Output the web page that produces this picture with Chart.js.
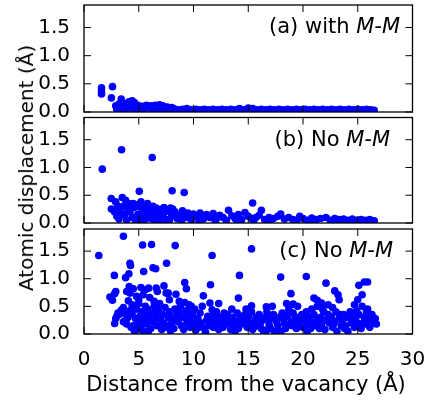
<!DOCTYPE html>
<html>
<head>
<meta charset="utf-8">
<title>Atomic displacement vs distance from the vacancy</title>
<script src="https://cdn.jsdelivr.net/npm/chart.js@4.4.0/dist/chart.umd.min.js"></script>
<style>
  html, body { margin: 0; padding: 0; background: #fff; }
  #fig { position: relative; width: 425px; height: 402px; overflow: hidden;
         font-family: 'DejaVu Sans', sans-serif; color: #000; }
  #fig canvas { position: absolute; left: 0; top: 0; }
  .ylabel { position: absolute; left: 26px; top: 168px; font-size: 20px; white-space: nowrap;
            transform: translate(-50%, -50%) rotate(-90deg); }
  .xlabel { position: absolute; left: 246px; top: 384px; font-size: 21px; white-space: nowrap;
            transform: translate(-50%, -50%); }
</style>
</head>
<body>
<div id="fig">
  <canvas id="panel-a" width="425" height="402"></canvas>
  <canvas id="panel-b" width="425" height="402"></canvas>
  <canvas id="panel-c" width="425" height="402"></canvas>
  <div class="ylabel">Atomic displacement (Å)</div>
  <div class="xlabel">Distance from the vacancy (Å)</div>
</div>
<script>
/* ── Data: [distance Å, displacement Å] ─────────────────────── */

const WITH_MM = [
  [1.6,0.43],[1.6,0.37],[1.6,0.32],[2.6,0.45],[2.5,0.25],[3.4,0.23],[2.9,0.11],[3.2,0.14],
  [3.6,0.10],[3.9,0.15],[4.1,0.18],[4.4,0.20],[4.6,0.17],[4.9,0.12],[5.3,0.10],[5.7,0.12],
  [6.1,0.11],[6.5,0.12],[6.9,0.13],[7.2,0.11],[7.6,0.09],[8.0,0.08],[15.0,0.07],
  [3.0,0.05],[3.4,0.06],[3.8,0.04],[4.2,0.07],[4.6,0.05],[5.0,0.06],[5.4,0.04],[5.8,0.07],
  [6.2,0.05],[6.6,0.06],[7.0,0.04],[7.4,0.06],[7.8,0.05],[8.2,0.06],[8.6,0.04],[9.0,0.05],
  [9.4,0.06],[9.8,0.04],[10.2,0.05],[10.6,0.04],[11.0,0.05],[11.4,0.04],[11.8,0.05],[12.2,0.04],
  [12.6,0.05],[13.0,0.04],[13.4,0.05],[13.8,0.04],[14.2,0.06],[14.6,0.04],[15.4,0.06],[15.8,0.04],
  [16.2,0.05],[16.6,0.04],[17.0,0.05],[17.4,0.04],[17.8,0.05],[18.2,0.04],[18.6,0.05],[19.0,0.04],
  [19.4,0.05],[19.8,0.04],[20.2,0.05],[20.6,0.04],[21.0,0.05],[21.4,0.04],[21.8,0.05],[22.2,0.04],
  [22.6,0.05],[23.0,0.04],[23.4,0.05],[23.8,0.04],[24.2,0.05],[24.6,0.04],[25.0,0.05],[25.4,0.04],
  [25.8,0.05],[26.2,0.04],[26.5,0.03],
];

const NO_MM_B = [
  [1.67,0.97],[3.43,1.32],[6.23,1.18],[5.05,0.57],[8.05,0.58],[9.15,0.55],[2.49,0.44],[3.5,0.46],
  [2.9,0.38],[3.8,0.41],[15.4,0.36],[16.2,0.23],[13.2,0.23],[14.7,0.19],[2.5,0.25],[2.8,0.20],
  [3.0,0.12],[3.2,0.07],[3.3,0.25],[3.6,0.30],[3.7,0.15],[3.9,0.05],[4.1,0.35],[4.2,0.20],
  [4.4,0.10],[4.6,0.28],[4.8,0.33],[4.9,0.15],[5.0,0.06],[5.2,0.38],[5.3,0.22],[5.5,0.30],
  [5.6,0.12],[5.8,0.35],[6.0,0.25],[6.1,0.08],[6.3,0.30],[6.5,0.18],[6.6,0.27],[6.8,0.10],
  [7.0,0.24],[7.2,0.15],[7.3,0.28],[7.5,0.06],[7.7,0.22],[7.9,0.27],[8.0,0.12],[8.3,0.20],
  [8.5,0.08],[8.7,0.15],[9.0,0.22],[9.2,0.10],[9.5,0.18],[9.8,0.06],[10.0,0.16],[10.3,0.12],
  [10.6,0.18],[10.9,0.07],[11.2,0.15],[11.5,0.10],[11.8,0.17],[12.1,0.08],[12.4,0.14],[12.7,0.10],
  [13.0,0.05],[13.5,0.13],[13.8,0.08],[14.1,0.15],[14.4,0.06],[15.0,0.12],[15.3,0.08],[15.7,0.10],
  [16.0,0.14],[16.5,0.06],[16.9,0.10],[17.3,0.08],[17.7,0.12],[17.96,0.16],[18.3,0.07],[18.7,0.10],
  [19.1,0.06],[19.7,0.12],[20.0,0.08],[20.4,0.05],[20.8,0.09],[21.2,0.06],[21.6,0.08],[22.1,0.10],
  [22.5,0.05],[22.9,0.08],[23.3,0.06],[23.7,0.07],[24.1,0.05],[24.5,0.07],[24.9,0.05],[25.3,0.06],
  [25.7,0.05],[26.1,0.06],[26.5,0.04],[5.5,0.04],[6.9,0.03],[8.9,0.03],[10.5,0.03],[12.0,0.03],
  [14.0,0.03],[15.5,0.04],[17.0,0.03],[19.4,0.03],[21.0,0.03],[23.0,0.03],
  [3.4,0.15],[4.0,0.25],[4.5,0.35],[5.0,0.30],[5.4,0.15],[5.9,0.20],[6.3,0.15],[6.9,0.20],
  [7.4,0.20],[8.1,0.25],[3.1,0.30],[4.7,0.05],[6.4,0.05],[7.8,0.05],[9.4,0.10],[10.8,0.14],
  [11.9,0.10],
];

const NO_MM_C = [
  [1.35,1.42],[3.6,1.77],[5.35,1.61],[6.17,1.62],[8.33,1.60],[15.3,1.54],[11.7,1.42],[4.2,1.28],
  [4.25,1.24],[7.54,1.28],[6.3,1.20],[6.55,1.18],[5.45,1.13],[2.77,1.06],[3.8,1.02],[4.1,1.09],
  [14.2,1.06],[17.96,1.03],[20.3,1.04],[11.55,0.89],[9.2,0.93],[9.35,0.82],[22.1,0.92],[25.6,0.94],
  [25.9,0.94],[25.1,0.88],[18.9,0.73],[10.9,0.69],[14.1,0.65],[8.4,0.72],[7.3,0.87],[7.7,0.74],
  [22.9,0.78],[23.2,0.71],[23.3,0.62],[21.0,0.65],[21.3,0.61],[25.4,0.71],[25.0,0.62],[24.7,0.53],
  [2.37,0.67],[2.6,0.61],[2.8,0.73],[2.9,0.77],[3.9,0.77],[4.5,0.82],[5.2,0.84],[5.6,0.80],
  [2.8,0.19],[2.9,0.28],[11.5,0.56],[11.7,0.44],[9.2,0.57],[9.8,0.50],[16.65,0.49],[15.3,0.51],
  [19.1,0.54],[19.5,0.50],[21.7,0.56],[22.3,0.53],[22.7,0.48],
  [4.13,0.86],[5.9,0.83],[6.6,0.83],[6.7,0.77],[7.5,0.74],[4.2,0.74],[4.8,0.68],[5.4,0.71],
  [4.05,0.60],[5.0,0.62],[4.4,0.53],[6.0,0.66],[6.4,0.59],[7.8,0.62],[6.9,0.53],[8.7,0.59],
  [9.6,0.53],[4.4,0.47],[3.4,0.43],[3.1,0.38],[3.0,0.32],[3.3,0.36],[3.6,0.48],
  [12.3,0.55],[13.5,0.45],[17.2,0.50],[18.5,0.55],
  [3.6,0.22],[3.8,0.25],[4.0,0.30],[3.9,0.18],[4.3,0.12],[4.4,0.35],[4.6,0.05],[4.2,0.42],[4.7,0.28],
  [4.8,0.45],[5.0,0.20],[5.1,0.32],[5.2,0.12],[5.3,0.40],[5.4,0.05],[4.9,0.10],[5.5,0.25],[5.0,0.55],
  [5.6,0.35],[5.7,0.18],[5.8,0.45],[6.0,0.28],[6.1,0.10],[6.2,0.38],[6.3,0.22],[6.4,0.50],[5.9,0.06],
  [6.6,0.30],[6.7,0.15],[6.8,0.42],[7.0,0.25],[7.1,0.08],[7.2,0.35],[7.3,0.20],[7.4,0.48],[6.9,0.55],
  [7.6,0.12],[7.7,0.30],[7.8,0.40],[8.0,0.20],[8.1,0.28],[8.2,0.10],[8.3,0.45],[8.4,0.33],[7.9,0.06],
  [8.6,0.22],[8.7,0.38],[8.9,0.15],[9.0,0.30],[9.1,0.08],[9.3,0.42],[9.4,0.20],[8.8,0.50],
  [9.6,0.30],[9.7,0.12],[9.9,0.35],[10.0,0.22],[10.1,0.45],[10.3,0.18],[10.4,0.28],[10.2,0.07],
  [10.6,0.38],[10.7,0.20],[10.8,0.50],[11.0,0.10],[11.1,0.03],[11.2,0.25],[11.3,0.32],[11.4,0.15],
  [11.6,0.22],[11.8,0.12],[11.9,0.35],[12.0,0.28],[12.2,0.18],[12.3,0.08],[12.4,0.30],[12.1,0.40],
  [12.6,0.22],[12.7,0.12],[12.9,0.30],[13.0,0.18],[13.1,0.35],[13.3,0.25],[13.4,0.08],[12.8,0.38],
  [13.6,0.30],[13.7,0.15],[13.9,0.22],[14.0,0.38],[14.1,0.10],[14.3,0.28],[14.4,0.18],[13.8,0.05],
  [14.6,0.25],[14.7,0.35],[14.9,0.12],[15.0,0.30],[15.1,0.20],[15.3,0.40],[15.4,0.08],[14.8,0.45],
  [15.6,0.22],[15.7,0.30],[15.9,0.15],[16.0,0.35],[16.2,0.10],[16.3,0.25],[16.4,0.05],[16.5,0.03],
  [16.6,0.30],[16.7,0.40],[16.9,0.18],[17.0,0.12],[17.1,0.28],[17.3,0.35],[17.4,0.05],[16.8,0.08],
  [17.6,0.22],[17.7,0.15],[17.9,0.30],[18.0,0.05],[18.1,0.38],[18.3,0.20],[18.4,0.10],[18.2,0.28],
  [18.6,0.32],[18.7,0.45],[18.9,0.22],[19.0,0.15],[19.1,0.38],[19.3,0.28],[19.4,0.10],[18.8,0.40],
  [19.6,0.30],[19.7,0.20],[19.9,0.35],[20.0,0.12],[20.2,0.25],[20.3,0.40],[20.4,0.05],[20.5,0.18],
  [20.6,0.30],[20.8,0.45],[20.9,0.22],[21.0,0.35],[21.2,0.15],[21.3,0.50],[21.4,0.25],[20.7,0.10],
  [21.6,0.30],[21.7,0.18],[21.9,0.40],[22.0,0.08],[22.1,0.25],[22.3,0.35],[22.4,0.20],[21.8,0.45],
  [22.6,0.30],[22.7,0.12],[22.9,0.22],[23.0,0.40],[23.1,0.05],[23.3,0.28],[23.4,0.35],[22.8,0.18],
  [23.6,0.22],[23.7,0.35],[23.9,0.15],[24.0,0.30],[24.1,0.05],[24.3,0.40],[24.4,0.20],[23.8,0.10],
  [24.6,0.28],[24.7,0.12],[24.9,0.42],[25.0,0.20],[25.1,0.35],[25.3,0.10],[25.4,0.50],[24.8,0.30],
  [25.6,0.30],[25.7,0.18],[25.8,0.40],[26.0,0.25],[26.1,0.12],[26.3,0.35],[26.5,0.20],[26.6,0.28],[25.9,0.45],
  [3.7,0.38],[4.5,0.15],[5.6,0.50],[6.5,0.40],[7.5,0.15],[8.5,0.30],[9.5,0.38],[10.5,0.12],
  [11.5,0.30],[12.5,0.15],[13.5,0.20],[14.5,0.32],[15.5,0.12],[16.1,0.20],[17.5,0.30],[18.5,0.15],
  [19.5,0.22],[20.1,0.30],[21.5,0.10],[22.5,0.25],[23.5,0.15],[24.5,0.35],[25.5,0.20],[26.2,0.30],
  [26.7,0.18],
];

const X_TICKS = [0, 5, 10, 15, 20, 25, 30];
const Y_TICKS = [0.0, 0.5, 1.0, 1.5];
const PANEL_TAGS = ['(a) with ', '(b) No ', '(c) No '];
const PANEL_ITALIC = 'M-M';

/* ── Layout (px) ─────────────────────────────────────────────── */
const W = 425, H = 402;
const PLOT_LEFT = 84, PLOT_RIGHT = 412.5;
const TICK_LEN = 7;
const FONT = "'DejaVu Sans', sans-serif";
const TICK_FONT = 20, TAG_FONT = 21;
const BOXES = [
  { top: 5,     bottom: 112, tagRight: 400 },
  { top: 117.5, bottom: 223, tagRight: 390 },
  { top: 229,   bottom: 334, tagRight: 393 },
];

/* ── Frame, inward ticks and panel tag ───────────────────────── */
const panelFrame = {
  id: 'panelFrame',
  afterDatasetsDraw(chart, args, opts) {
    const { ctx, chartArea: a, scales: { x, y } } = chart;
    ctx.save();
    ctx.strokeStyle = '#000';
    ctx.lineWidth = 1;
    ctx.beginPath();
    X_TICKS.forEach(v => {
      const px = x.getPixelForValue(v);
      ctx.moveTo(px, a.bottom); ctx.lineTo(px, a.bottom - TICK_LEN);
      ctx.moveTo(px, a.top);    ctx.lineTo(px, a.top + TICK_LEN);
    });
    Y_TICKS.forEach(v => {
      const py = y.getPixelForValue(v);
      ctx.moveTo(a.left, py);  ctx.lineTo(a.left + TICK_LEN, py);
      ctx.moveTo(a.right, py); ctx.lineTo(a.right - TICK_LEN, py);
    });
    ctx.stroke();
    ctx.lineWidth = 1.3;
    ctx.strokeRect(a.left, a.top, a.right - a.left, a.bottom - a.top);

    // "(a) with M-M" — M-M in italics, right aligned
    ctx.fillStyle = '#000';
    ctx.textBaseline = 'alphabetic';
    ctx.textAlign = 'left';
    ctx.font = `italic ${TAG_FONT}px ${FONT}`;
    const wItal = ctx.measureText(PANEL_ITALIC).width;
    ctx.font = `${TAG_FONT}px ${FONT}`;
    const wTag = ctx.measureText(opts.tag).width;
    const base = a.top + 28;
    const x0 = opts.right - wItal - wTag;
    ctx.fillText(opts.tag, x0, base);
    ctx.font = `italic ${TAG_FONT}px ${FONT}`;
    ctx.fillText(PANEL_ITALIC, x0 + wTag, base);
    ctx.restore();
  },
};

/* ── One scatter panel ───────────────────────────────────────── */
function makePanel(id, points, i) {
  const box = BOXES[i];
  const showX = i === BOXES.length - 1;
  return new Chart(document.getElementById(id), {
    type: 'scatter',
    data: {
      datasets: [{
        data: points.map(([x, y]) => ({ x, y })),
        backgroundColor: '#0000ff',
        borderWidth: 0,
        pointRadius: 3.8,
        pointHoverRadius: 3.8,
        clip: 0,
      }],
    },
    options: {
      responsive: false,
      animation: false,
      events: [],
      layout: {
        padding: { left: 0, right: W - PLOT_RIGHT, top: box.top, bottom: showX ? 0 : H - box.bottom },
      },
      plugins: {
        legend: { display: false },
        tooltip: { enabled: false },
        panelFrame: { tag: PANEL_TAGS[i], right: box.tagRight },
      },
      scales: {
        x: {
          type: 'linear', min: 0, max: 30, display: showX,
          afterBuildTicks: s => { s.ticks = X_TICKS.map(v => ({ value: v })); },
          afterFit: s => {
            if (showX) s.height = H - box.bottom;
            s.paddingLeft = 0;
            s.paddingRight = 0;   // let "30" overhang into the right margin
          },
          grid: { display: false },
          border: { display: false },
          ticks: { color: '#000', font: { family: FONT, size: TICK_FONT }, padding: 6, maxRotation: 0,
                   callback: v => String(v) },
        },
        y: {
          type: 'linear', min: 0, max: 1.9,
          afterBuildTicks: s => { s.ticks = Y_TICKS.map(v => ({ value: v })); },
          afterFit: s => { s.width = PLOT_LEFT; s.paddingTop = 0; s.paddingBottom = 0; },
          grid: { display: false },
          border: { display: false },
          ticks: { color: '#000', font: { family: FONT, size: TICK_FONT }, padding: 6,
                   callback: v => v.toFixed(1) },
        },
      },
    },
    plugins: [panelFrame],
  });
}

makePanel('panel-a', WITH_MM, 0);
makePanel('panel-b', NO_MM_B, 1);
makePanel('panel-c', NO_MM_C, 2);
</script>
</body>
</html>
